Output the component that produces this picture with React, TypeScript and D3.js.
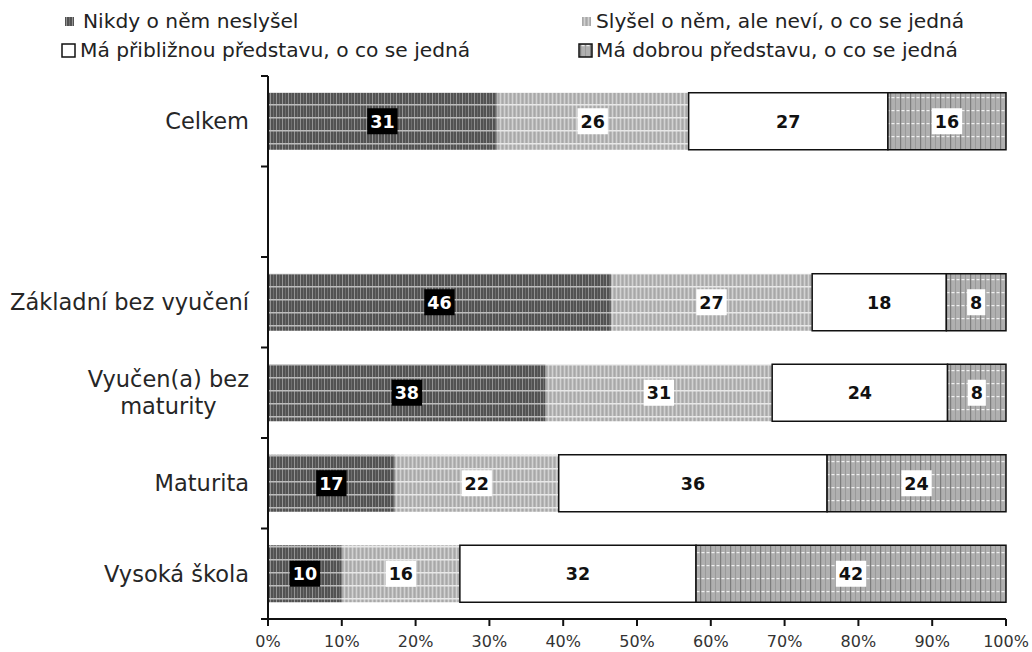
import React, { useEffect, useRef } from "react";
import * as d3 from "d3";

const categories = ["Celkem", "", "Základní bez vyučení", "Vyučen(a) bez\nmaturity", "Maturita", "Vysoká škola"];
const seriesNames = [
  "Nikdy o něm neslyšel",
  "Slyšel o něm, ale neví, o co se jedná",
  "Má přibližnou představu, o co se jedná",
  "Má dobrou představu, o co se jedná",
];
const nikdy = [31, null, 46, 38, 17, 10];
const slysel = [26, null, 27, 31, 22, 16];
const priblizna = [27, null, 18, 24, 36, 32];
const dobra = [16, null, 8, 8, 24, 42];
const xTicks = [0, 10, 20, 30, 40, 50, 60, 70, 80, 90, 100];

const W = 1032;
const H = 652;

export default function App() {
  const ref = useRef<SVGSVGElement>(null);

  useEffect(() => {
    const svg = d3.select(ref.current);
    svg.selectAll("*").remove();

    const x0 = 268, x1 = 1006, yTop = 76, yBot = 619;
    const x = d3.scaleLinear().domain([0, 100]).range([x0, x1]);
    const y = d3.scaleBand<string>().domain(categories).range([yTop, yBot]).paddingInner(0.37).paddingOuter(0.185);

    // patterns
    const defs = svg.append("defs");
    const p1 = defs.append("pattern").attr("id", "p1").attr("patternUnits", "userSpaceOnUse").attr("width", 6).attr("height", 13);
    p1.append("rect").attr("width", 6).attr("height", 13).attr("fill", "#525252");
    p1.append("rect").attr("x", 0).attr("width", 1).attr("height", 13).attr("fill", "#939393");
    p1.append("rect").attr("x", 3).attr("width", 1).attr("height", 13).attr("fill", "#6e6e6e");
    p1.append("rect").attr("y", 0).attr("width", 6).attr("height", 1.5).attr("fill", "#bdbdbd");

    const p2 = defs.append("pattern").attr("id", "p2").attr("patternUnits", "userSpaceOnUse").attr("width", 4).attr("height", 13);
    p2.append("rect").attr("width", 4).attr("height", 13).attr("fill", "#b6b6b6");
    p2.append("rect").attr("x", 0).attr("width", 1).attr("height", 13).attr("fill", "#d2d2d2");
    p2.append("rect").attr("x", 2).attr("width", 1).attr("height", 13).attr("fill", "#a8a8a8");
    p2.append("rect").attr("y", 0).attr("width", 4).attr("height", 1.5).attr("fill", "#e8e8e8");

    const p4 = defs.append("pattern").attr("id", "p4").attr("patternUnits", "userSpaceOnUse").attr("width", 10).attr("height", 13);
    p4.append("rect").attr("width", 10).attr("height", 13).attr("fill", "#b0b0b0");
    p4.append("rect").attr("x", 0).attr("width", 1.2).attr("height", 13).attr("fill", "#7c7c7c");
    p4.append("rect").attr("x", 5).attr("width", 1).attr("height", 13).attr("fill", "#9a9a9a");
    p4.append("rect").attr("x", 1.5).attr("y", 6).attr("width", 3).attr("height", 1.2).attr("fill", "#f0f0f0");
    p4.append("rect").attr("x", 6.5).attr("y", 6).attr("width", 3).attr("height", 1.2).attr("fill", "#f0f0f0");

    const fills = ["url(#p1)", "url(#p2)", "#ffffff", "url(#p4)"];
    const strokes = ["none", "none", "#111", "#111"];
    const series = [nikdy, slysel, priblizna, dobra];

    // legend
    const legendFont = 20.2;
    const lg = svg.append("g").attr("font-family", "DejaVu Sans, Verdana, sans-serif").attr("font-size", legendFont).attr("fill", "#222");
    const legendItems = [
      { mx: 65, my: 17, ms: 9, tx: 83, ty: 28 },
      { mx: 582, my: 17, ms: 9, tx: 596, ty: 28 },
      { mx: 62, my: 44, ms: 13, tx: 80, ty: 57 },
      { mx: 579, my: 44, ms: 13, tx: 596, ty: 57 },
    ];
    legendItems.forEach((it, i) => {
      lg.append("rect").attr("x", it.mx).attr("y", it.my).attr("width", it.ms).attr("height", it.ms)
        .attr("fill", fills[i]).attr("stroke", strokes[i]).attr("stroke-width", 1.5);
      lg.append("text").attr("x", it.tx).attr("y", it.ty).text(seriesNames[i]);
    });

    // bars
    const barsG = svg.append("g");
    const labelsG = svg.append("g").attr("font-family", "DejaVu Sans, Verdana, sans-serif").attr("font-weight", "bold").attr("font-size", 17.5);
    categories.forEach((cat, ci) => {
      const vals = series.map((s) => s[ci]);
      if (vals.some((v) => v == null)) return;
      const total = d3.sum(vals as number[]);
      let cum = 0;
      const by = y(cat)!;
      const bh = y.bandwidth();
      vals.forEach((v, si) => {
        const start = (cum / total) * 100;
        cum += v as number;
        const end = (cum / total) * 100;
        barsG.append("rect").attr("x", x(start)).attr("y", by).attr("width", x(end) - x(start)).attr("height", bh)
          .attr("fill", fills[si]).attr("stroke", strokes[si]).attr("stroke-width", 1.5);
        const cx = (x(start) + x(end)) / 2;
        const cy = by + bh / 2;
        const g = labelsG.append("g");
        const rect = g.append("rect");
        const t = g.append("text").attr("x", cx).attr("y", cy + 6.5).attr("text-anchor", "middle")
          .attr("fill", si === 0 ? "#fff" : "#111").text(String(v));
        const tw = (t.node() as SVGTextElement).getComputedTextLength();
        rect.attr("x", cx - tw / 2 - 3).attr("y", cy - 13).attr("width", tw + 6).attr("height", 26)
          .attr("fill", si === 0 ? "#000" : "#fff");
      });
    });

    // y axis
    const ax = svg.append("g").attr("stroke", "#111").attr("stroke-width", 2);
    ax.append("line").attr("x1", x0).attr("x2", x0).attr("y1", yTop).attr("y2", yBot);
    const step = y.step();
    categories.forEach((_, i) => {
      const yy = yTop + i * step;
      ax.append("line").attr("x1", x0 - 7).attr("x2", x0).attr("y1", yy).attr("y2", yy);
    });
    // x axis
    ax.append("line").attr("x1", x0 - 7).attr("x2", x1).attr("y1", yBot).attr("y2", yBot);
    xTicks.forEach((tk) => {
      ax.append("line").attr("x1", x(tk)).attr("x2", x(tk)).attr("y1", yBot).attr("y2", yBot + 7);
    });
    const tl = svg.append("g").attr("font-family", "DejaVu Sans, Verdana, sans-serif").attr("font-size", 16).attr("fill", "#333");
    xTicks.forEach((tk) => {
      tl.append("text").attr("x", x(tk)).attr("y", 647).attr("text-anchor", "middle").text(`${tk}%`);
    });

    // category labels
    const cl = svg.append("g").attr("font-family", "DejaVu Sans, Verdana, sans-serif").attr("font-size", 22.5).attr("fill", "#262626");
    categories.forEach((cat) => {
      if (!cat) return;
      const lines = cat.split("\n");
      const cy = y(cat)! + y.bandwidth() / 2;
      const lh = 27;
      const texts = lines.map((ln, li) =>
        cl.append("text").attr("y", cy - ((lines.length - 1) * lh) / 2 + li * lh + 8).text(ln)
      );
      const widths = texts.map((t) => (t.node() as SVGTextElement).getComputedTextLength());
      const maxW = d3.max(widths)!;
      const centerX = 249 - maxW / 2;
      texts.forEach((t) => t.attr("x", centerX).attr("text-anchor", "middle"));
    });
  }, []);

  return (
    <svg ref={ref} width={W} height={H} style={{ position: "absolute", left: 0, top: 0, background: "#fff" }} />
  );
}
